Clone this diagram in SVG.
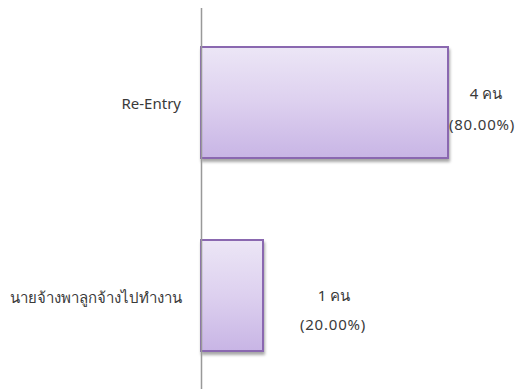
<svg xmlns="http://www.w3.org/2000/svg" width="518" height="389" viewBox="0 0 518 389">
<defs>
<linearGradient id="g" x1="0" y1="0" x2="0" y2="1">
<stop offset="0" stop-color="#ece6f6"/>
<stop offset="0.5" stop-color="#ddd0ef"/>
<stop offset="1" stop-color="#c8b5e5"/>
</linearGradient>
<filter id="sh" x="-10%" y="-10%" width="130%" height="130%">
<feGaussianBlur in="SourceAlpha" stdDeviation="1.5"/>
<feOffset dx="1" dy="3" result="b"/>
<feComponentTransfer><feFuncA type="linear" slope="0.35"/></feComponentTransfer>
<feMerge><feMergeNode/><feMergeNode in="SourceGraphic"/></feMerge>
</filter>
</defs>
<style>
.bar{fill:url(#g);stroke:#8a68b0;stroke-width:2;filter:url(#sh)}
text{font-family:"Noto Sans","Liberation Sans",sans-serif;font-size:15px;fill:#3a3a3a}
.r{text-anchor:end}
.m{text-anchor:middle}
.p{letter-spacing:0.8px}
</style>
<rect width="518" height="389" fill="#fff"/>
<g id="bar-reentry"><rect class="bar" x="201" y="47" width="247" height="111"/></g>
<g id="bar-employer"><rect class="bar" x="201" y="240" width="62" height="111"/></g>
<g id="axis"><line x1="201.5" y1="8" x2="201.5" y2="389" stroke="#999" stroke-width="1.5"/></g>
<g id="labels">
<text class="r" x="181" y="109">Re-Entry</text>
<text class="r" x="182" y="303">นายจ้างพาลูกจ้างไปทำงาน</text>
<text class="m" x="486" y="99">4 คน</text>
<text class="m p" x="482" y="130">(80.00%)</text>
<text class="m" x="334" y="301">1 คน</text>
<text class="m p" x="333" y="330">(20.00%)</text>
</g>
</svg>
